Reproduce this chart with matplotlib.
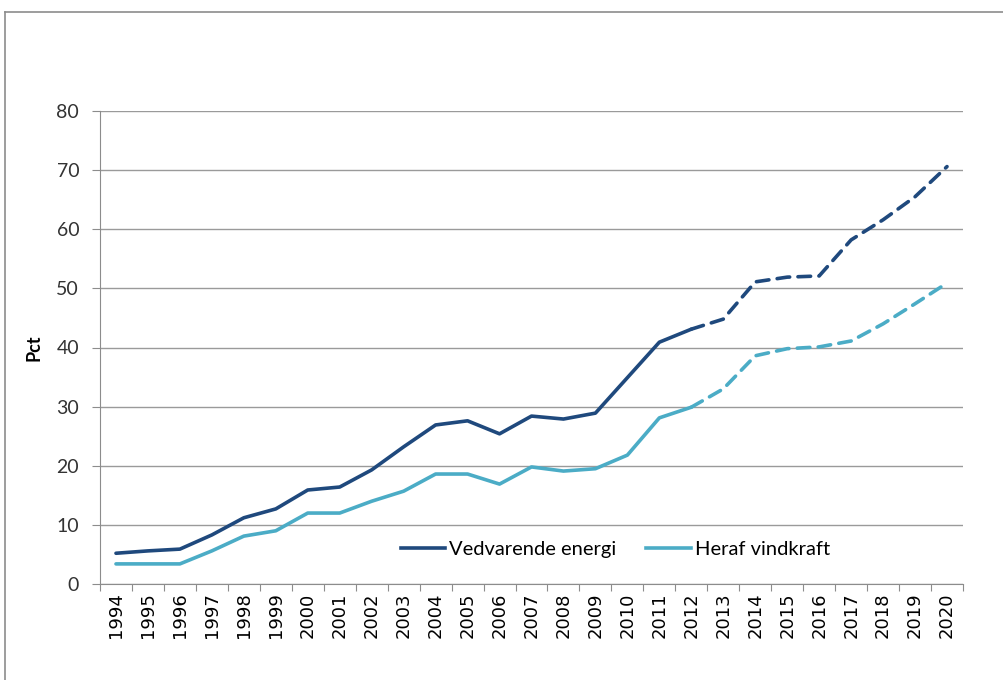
import numpy as np
import matplotlib.pyplot as plt
from matplotlib.lines import Line2D

# data
years = [str(y) for y in range(1994, 2021)]
vedvarende = [5.2, 5.6, 5.9, 8.3, 11.2, 12.7, 15.9, 16.4, 19.3, 23.2, 26.9, 27.6, 25.4,
              28.4, 27.9, 28.9, 34.9, 40.9, 43.1, 44.8, 51.1, 51.9, 52.1, 58.2, 61.6, 65.5, 70.6]
vindkraft = [3.4, 3.4, 3.4, 5.6, 8.1, 9.0, 12.0, 12.0, 14.0, 15.7, 18.6, 18.6, 16.9,
             19.8, 19.1, 19.5, 21.8, 28.1, 29.9, 33.0, 38.6, 39.8, 40.1, 41.1, 44.0, 47.4, 50.9]
last_actual = 2012

plt.rcParams['font.family'] = ['Lato', 'DejaVu Sans']

dark = '#1f497d'
light = '#4bacc6'
lw = 2.6

fig = plt.figure(figsize=(10.04, 6.8), dpi=100)
ax = fig.add_axes([100/1004, 1 - 584/680, 863/1004, 473/680])

x = np.arange(len(years))
cut = years.index(str(last_actual))

ax.plot(x[:cut + 1], vedvarende[:cut + 1], color=dark, lw=lw, solid_capstyle='round')
ax.plot(x[cut:], vedvarende[cut:], color=dark, lw=lw, dashes=(3.5, 2.3), dash_capstyle='round')
ax.plot(x[:cut + 1], vindkraft[:cut + 1], color=light, lw=lw, solid_capstyle='round')
ax.plot(x[cut:], vindkraft[cut:], color=light, lw=lw, dashes=(3.5, 2.3), dash_capstyle='round')

ax.set_xlim(-0.5, len(years) - 0.5)
ax.set_ylim(0, 80)
ax.set_yticks(range(0, 81, 10))
ax.yaxis.grid(True, color='#9a9a9a', lw=1)
ax.set_axisbelow(True)

ax.set_xticks(np.arange(-0.5, len(years), 1))
ax.set_xticklabels([])
ax.set_xticks(x, minor=True)
ax.set_xticklabels(years, minor=True, rotation=90, fontsize=13, family=['DejaVu Sans'])
ax.tick_params(axis='x', which='minor', length=0, pad=6)
ax.tick_params(axis='x', which='major', length=5, color='#8c8c8c')
ax.tick_params(axis='y', length=6, color='#8c8c8c', labelsize=14, pad=9, labelcolor='#333333')

for s in ['top', 'right']:
    ax.spines[s].set_visible(False)
for s in ['left', 'bottom']:
    ax.spines[s].set_color('#8c8c8c')

ax.set_ylabel('Pct', fontsize=13, fontweight='bold', labelpad=10)

handles = [Line2D([], [], color=dark, lw=lw), Line2D([], [], color=light, lw=lw)]
ax.legend(handles, ['Vedvarende energi', 'Heraf vindkraft'], ncol=2, frameon=False,
          loc='center', bbox_to_anchor=(0.597, 0.072), fontsize=14.5,
          handlelength=2.2, columnspacing=1.5, handletextpad=0.2)

# outer frame
fig.add_artist(Line2D([5/1004, 5/1004], [0, 1 - 12/680], color='#8c8c8c', lw=1.2, transform=fig.transFigure))
fig.add_artist(Line2D([5/1004, 1], [1 - 12/680, 1 - 12/680], color='#8c8c8c', lw=1.2, transform=fig.transFigure))

fig.savefig('out.png', dpi=100)
